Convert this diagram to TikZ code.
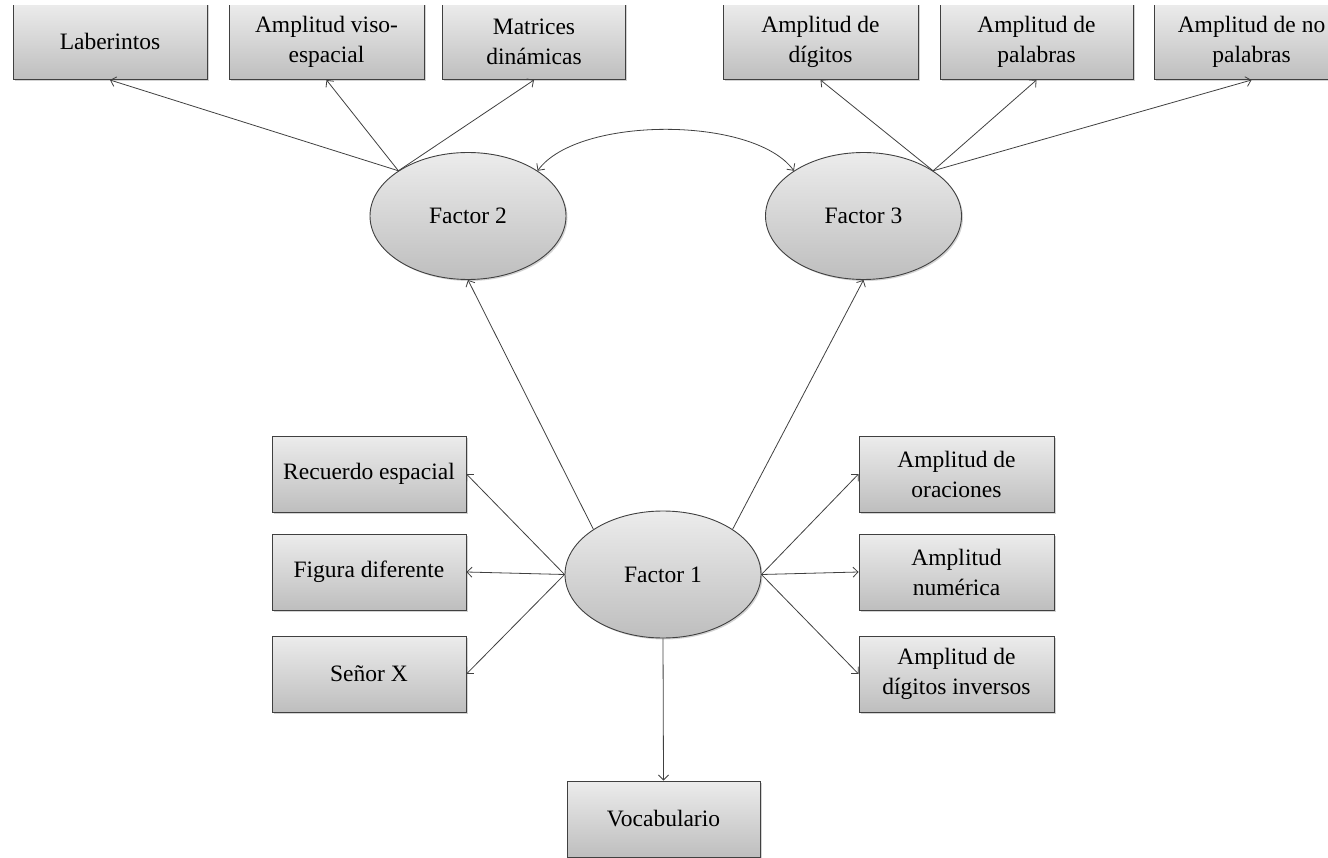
\documentclass[tikz,border=0pt]{standalone}
\usepackage{fontspec}
\setmainfont{Liberation Serif}
\usetikzlibrary{arrows.meta,shadows,shapes.geometric,calc}
\definecolor{boxtop}{RGB}{236,236,236}
\definecolor{boxbot}{RGB}{190,190,190}
\definecolor{edgec}{RGB}{64,64,64}
\begin{document}
\begin{tikzpicture}[x=1pt,y=-1pt,
  box/.style={draw=edgec, line width=0.9pt, top color=boxtop, bottom color=boxbot,
    minimum width=194pt, minimum height=76pt, inner sep=0pt, align=center,
    font=\fontsize{23.5}{30}\selectfont,
    drop shadow={shadow xshift=1.5pt, shadow yshift=-1.5pt, opacity=0.35}},
  factor/.style={ellipse, draw=edgec, line width=0.9pt, top color=boxtop, bottom color=boxbot,
    minimum width=196pt, minimum height=127pt, inner sep=0pt,
    font=\fontsize{23.5}{30}\selectfont,
    drop shadow={shadow xshift=1.5pt, shadow yshift=-1.5pt, opacity=0.35}},
  arr/.style={draw=edgec, line width=0.8pt, -{Straight Barb[length=5pt,width=10pt]}},
  biarr/.style={draw=edgec, line width=0.8pt, {Straight Barb[length=5pt,width=10pt]}-{Straight Barb[length=5pt,width=10pt]}}]
\useasboundingbox (0,0) rectangle (1328,858);
\clip (0,5.5) rectangle (1328,858);
% top boxes
\node[box, anchor=south, minimum width=194pt] (lab) at (110,80) {Laberintos};
\node[box, anchor=south, minimum width=195pt] (vis) at (326.5,80) {Amplitud viso-\\espacial};
\node[box, anchor=south, minimum width=183pt] (mat) at (534,80) {Matrices\\dinámicas};
\node[box, anchor=south, minimum width=195pt] (dig) at (820.5,80) {Amplitud de\\dígitos};
\node[box, anchor=south, minimum width=193pt] (pal) at (1036.5,80) {Amplitud de\\palabras};
\node[box, anchor=south, minimum width=195pt] (npa) at (1251.5,80) {Amplitud de no\\palabras};
% factors
\node[factor] (f2) at (468,216) {Factor 2};
\node[factor] (f3) at (863.5,216) {Factor 3};
\node[factor] (f1) at (663,574.5) {Factor 1};
% left boxes
\node[box] (rec) at (369,474) {Recuerdo espacial};
\node[box] (fig) at (369,572) {Figura diferente};
\node[box] (sen) at (369,674) {Señor X};
% right boxes
\node[box, minimum width=195pt] (ora) at (956.5,474) {Amplitud de\\oraciones};
\node[box, minimum width=195pt] (num) at (956.5,572) {Amplitud\\numérica};
\node[box, minimum width=195pt] (inv) at (956.5,674) {Amplitud de\\dígitos inversos};
% bottom
\node[box, minimum width=193pt] (voc) at (663.5,819) {Vocabulario};
% connectors
\draw[arr] (f2.north west) -- (lab.south);
\draw[arr] (f2.north west) -- (vis.south);
\draw[arr] (f2.north west) -- (mat.south);
\draw[arr] (f3.north east) -- (dig.south);
\draw[arr] (f3.north east) -- (pal.south);
\draw[arr] (f3.north east) -- (npa.south);
\draw[biarr] (f2.north east) .. controls ($(f2.north east)+(40,-55)$) and ($(f3.north west)+(-40,-55)$) .. (f3.north west);
\draw[arr] (f1.north west) -- (f2.south);
\draw[arr] (f1.north east) -- (f3.south);
\draw[arr] (f1.west) -- (rec.east);
\draw[arr] (f1.west) -- (fig.east);
\draw[arr] (f1.west) -- (sen.east);
\draw[arr] (f1.east) -- (ora.west);
\draw[arr] (f1.east) -- (num.west);
\draw[arr] (f1.east) -- (inv.west);
\draw[arr] (f1.south) -- (voc.north);
\end{tikzpicture}
\end{document}
